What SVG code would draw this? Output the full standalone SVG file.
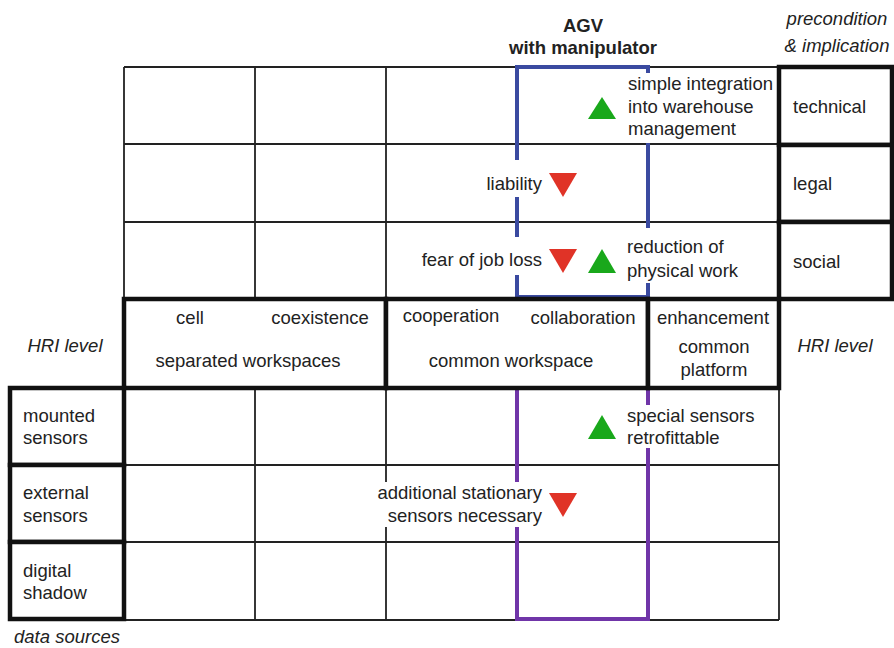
<svg xmlns="http://www.w3.org/2000/svg" width="894" height="648" viewBox="0 0 894 648">
<style>
text{font-family:"Liberation Sans",Arial,sans-serif;font-size:18.5px;fill:#222}
.b{font-weight:bold}
.i{font-style:italic}
.m{text-anchor:middle}
.e{text-anchor:end}
.grid{stroke:#222;stroke-width:1.8;fill:none}
.thick{stroke:#111;stroke-width:4.5;fill:#fff}
.up{fill:#19a81b}
.down{fill:#e03327}
.mask{fill:#fff}
</style>
<rect width="894" height="648" fill="#fff"/>
<g id="grid" class="grid">
<path d="M124 67H779M124 144H779M124 222H779M124 67V299M255 67V299M386 67V299M517 67V299"/>
<path d="M124 465H779M124 542H779M124 620H779M255 388V620M386 388V620M517 388V620M779 388V620"/>
</g>
<g id="brackets" fill="none" stroke-width="4">
<path d="M517 67H648V297H517Z" stroke="#3a4aa0"/>
<path d="M517 388V619H648V388" stroke="#7035a8"/>
</g>
<g id="masks">
<rect class="mask" x="624" y="73" width="152" height="70"/>
<rect class="mask" x="484" y="160" width="62" height="37"/>
<rect class="mask" x="418" y="237" width="128" height="38"/>
<rect class="mask" x="624" y="228" width="118" height="55"/>
<rect class="mask" x="624" y="405" width="134" height="43"/>
<rect class="mask" x="374" y="482" width="172" height="45"/>
</g>
<g id="header-agv"><text class="b m" x="583" y="32">AGV</text><text class="b m" x="583" y="54">with manipulator</text></g>
<g id="header-precondition"><text class="i m" x="837" y="25">precondition</text><text class="i m" x="837" y="52">&amp; implication</text></g>
<g id="technical"><rect class="thick" x="779" y="67" width="113" height="78"/><text x="793" y="113">technical</text></g>
<g id="legal"><rect class="thick" x="779" y="145" width="113" height="77"/><text x="793" y="190">legal</text></g>
<g id="social"><rect class="thick" x="779" y="222" width="113" height="77"/><text x="793" y="268">social</text></g>
<g id="separated-workspaces"><rect class="thick" x="124" y="299" width="262" height="89"/><text class="m" x="190" y="324">cell</text><text class="m" x="320" y="324">coexistence</text><text class="m" x="248" y="367">separated workspaces</text></g>
<g id="common-workspace"><rect class="thick" x="386" y="299" width="262" height="89"/><text class="m" x="451" y="322">cooperation</text><text class="m" x="583" y="324">collaboration</text><text class="m" x="511" y="367">common workspace</text></g>
<g id="common-platform"><rect class="thick" x="648" y="299" width="131" height="89"/><text class="m" x="713" y="324">enhancement</text><text class="m" x="714" y="353">common</text><text class="m" x="714" y="376">platform</text></g>
<g id="hri-left"><text class="i m" x="65" y="352">HRI level</text></g>
<g id="hri-right"><text class="i m" x="835" y="352">HRI level</text></g>
<g id="mounted-sensors"><rect class="thick" x="10" y="388" width="114" height="77"/><text x="23" y="422">mounted</text><text x="23" y="444">sensors</text></g>
<g id="external-sensors"><rect class="thick" x="10" y="465" width="114" height="77"/><text x="23" y="499">external</text><text x="23" y="522">sensors</text></g>
<g id="digital-shadow"><rect class="thick" x="10" y="542" width="114" height="77"/><text x="23" y="577">digital</text><text x="23" y="599">shadow</text></g>
<g id="data-sources"><text class="i m" x="67" y="643">data sources</text></g>
<g id="simple-integration"><polygon class="up" points="602,97 616,119 588,119"/><text x="628" y="90">simple integration</text><text x="628" y="113">into warehouse</text><text x="628" y="135">management</text></g>
<g id="liability"><polygon class="down" points="549,173 577,173 563,197"/><text class="e" x="542" y="190">liability</text></g>
<g id="fear"><polygon class="down" points="549,249 577,249 563,273"/><text class="e" x="542" y="266">fear of job loss</text></g>
<g id="reduction"><polygon class="up" points="602,249 616,273 588,273"/><text x="627" y="253">reduction of</text><text x="627" y="277">physical work</text></g>
<g id="special-sensors"><polygon class="up" points="602,415 616,439 588,439"/><text x="627" y="422">special sensors</text><text x="627" y="444">retrofittable</text></g>
<g id="additional-sensors"><polygon class="down" points="549,493 577,493 563,517"/><text class="e" x="542" y="499">additional stationary</text><text class="e" x="542" y="522">sensors necessary</text></g>
</svg>
